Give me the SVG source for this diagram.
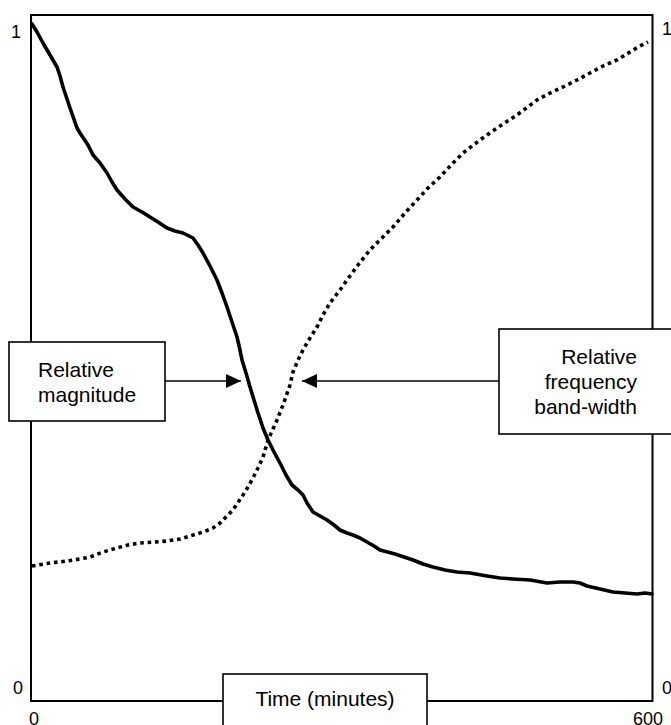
<svg xmlns="http://www.w3.org/2000/svg" width="671" height="725" viewBox="0 0 671 725">
<style>
text{font-family:"Liberation Sans",Arial,sans-serif;fill:#000}
.lbl{font-size:21px}
.tick{font-size:18px}
.box{fill:#fff;stroke:#000;stroke-width:1.6}
.conn{stroke:#000;stroke-width:1.6;fill:none}
.solid{fill:none;stroke:#000;stroke-width:3.6;stroke-linejoin:round;stroke-linecap:round}
.dotted{fill:none;stroke:#000;stroke-width:3.6;stroke-dasharray:3.6 3.8}
</style>
<defs>
<marker id="ah" markerUnits="userSpaceOnUse" markerWidth="16" markerHeight="14" refX="15" refY="7" orient="auto">
<path d="M0,0 L15,7 L0,14 Z" fill="#000"/>
</marker>
</defs>
<rect x="0" y="0" width="671" height="725" fill="#fff"/>
<g id="frame">
<rect x="31" y="15" width="621.5" height="686" fill="none" stroke="#000" stroke-width="2"/>
</g>
<g id="ticks">
<text class="tick" x="21" y="38" text-anchor="end">1</text>
<text class="tick" x="662" y="35">1</text>
<text class="tick" x="23" y="694" text-anchor="end">0</text>
<text class="tick" x="662" y="694">0</text>
<text class="tick" x="34" y="725" text-anchor="middle">0</text>
<text class="tick" x="648" y="725" text-anchor="middle">600</text>
</g>
<g id="curves">
<path class="solid" d="M32,24 L37,32 L43,43 L50,55 L57,67 L60,76 L63,87 L70,108 L77,128 L80,133 L88,145 L93,155 L100,163 L107,173 L112,182 L117,190 L125,199 L133,207 L142,212 L150,217 L158,222 L167,228 L175,231 L183,233 L193,238 L198,245 L203,253 L210,266 L217,280 L222,293 L227,307 L232,322 L237,337 L240,350 L242,360 L246,373 L250,387 L254,400 L258,413 L263,428 L268,440 L274,452 L280,463 L286,475 L292,485 L298,490 L303,495 L307,503 L313,512 L320,516 L327,520 L334,525 L340,530 L347,533 L353,535 L360,538 L367,542 L374,546 L380,550 L395,554 L413,560 L423,564 L433,567 L445,570 L457,572 L470,573 L487,576 L500,578 L513,579 L530,580 L547,583 L560,582 L573,582 L580,583 L587,586 L600,589 L613,592 L625,593 L637,594 L645,593 L652,594"/>
<path class="dotted" d="M32,566 L50,563 L67,561 L80,559 L90,557 L103,552 L117,548 L128,545 L140,543 L155,542 L167,541 L180,539 L190,536 L203,532 L213,528 L220,523 L230,513 L235,507 L243,495 L248,487 L253,478 L258,468 L263,457 L268,440 L277,420 L283,405 L290,385 L293,372 L298,360 L303,350 L310,338 L317,327 L323,315 L330,303 L340,290 L347,280 L358,265 L370,250 L382,238 L393,227 L405,213 L417,200 L428,188 L440,177 L452,164 L463,153 L480,140 L497,128 L517,115 L537,100 L550,93 L563,87 L577,80 L590,73 L603,66 L617,60 L630,52 L640,46 L648,42"/>
</g>
<g id="connectors">
<line class="conn" x1="165" y1="381" x2="241" y2="381" marker-end="url(#ah)"/>
<line class="conn" x1="499" y1="381" x2="302" y2="381" marker-end="url(#ah)"/>
</g>
<g id="node-magnitude">
<rect class="box" x="9" y="342" width="156" height="79"/>
<text class="lbl" x="38" y="377">Relative</text>
<text class="lbl" x="38" y="402">magnitude</text>
</g>
<g id="node-bandwidth">
<rect class="box" x="499" y="329" width="176" height="105"/>
<text class="lbl" x="637" y="364" text-anchor="end">Relative</text>
<text class="lbl" x="637" y="389" text-anchor="end">frequency</text>
<text class="lbl" x="637" y="414" text-anchor="end">band-width</text>
</g>
<g id="node-time">
<rect class="box" x="223" y="674" width="204" height="60"/>
<text class="lbl" x="325" y="706" text-anchor="middle">Time (minutes)</text>
</g>
</svg>
